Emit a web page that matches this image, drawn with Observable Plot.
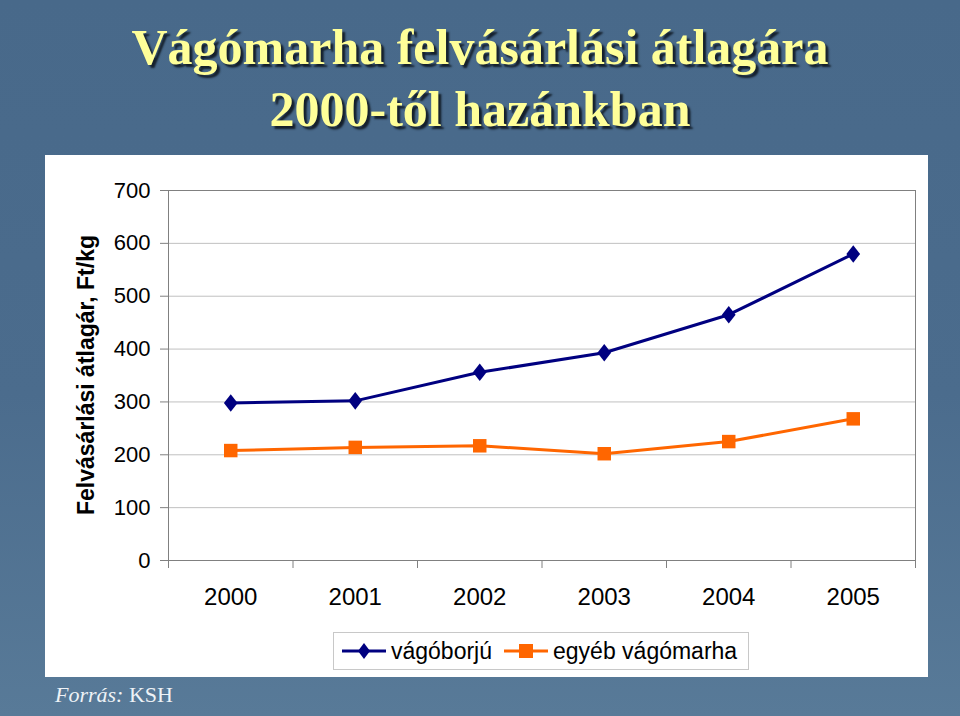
<!DOCTYPE html>
<html>
<head>
<meta charset="utf-8">
<script src="https://cdn.jsdelivr.net/npm/d3@7"></script>
<script src="https://cdn.jsdelivr.net/npm/@observablehq/plot@0.6"></script>
<style>
  html, body { margin: 0; padding: 0; }
  #slide {
    position: relative; width: 960px; height: 716px; overflow: hidden;
    background: linear-gradient(180deg, #48698a 0%, #4b6c8d 55%, #587a98 100%);
    font-family: "Liberation Sans", Arial, sans-serif;
  }
  .title {
    position: absolute; left: 0; width: 960px; text-align: center;
    font-family: "Liberation Serif", "Times New Roman", serif;
    font-size: 50px; font-weight: bold; color: #ffff99; line-height: 1;
    text-shadow: 3px 3px 2px #15202c;
  }
  #panel {
    position: absolute; left: 45px; top: 155px; width: 883px; height: 522px;
    background: #ffffff;
  }
  #chart { position: absolute; left: 0; top: 0; }
  #ytitle {
    position: absolute; left: 86px; top: 375px;
    transform: translate(-50%, -50%) rotate(-90deg);
    font-weight: bold; font-size: 23px; white-space: nowrap; color: #000;
  }
  #legend {
    position: absolute; left: 333px; top: 632px; width: 416px; height: 38px;
    border: 1px solid #c8c8c8; box-sizing: border-box; background: #fff;
    display: flex; align-items: center; font-size: 23px; color: #000;
    padding-left: 6px;
  }
  #legend .item { display: flex; align-items: center; margin-right: 10px; }
  #legend svg { margin-right: 3px; }
  #source {
    position: absolute; left: 55px; top: 684px; line-height: 1;
    font-family: "Liberation Serif", "Times New Roman", serif;
    font-size: 22px; color: #eef2f6;
  }
</style>
</head>
<body>
<div id="slide">
  <div class="title" style="top:22px;">Vágómarha felvásárlási átlagára</div>
  <div class="title" style="top:84px;">2000-től hazánkban</div>
  <div id="panel"><div id="chart"></div></div>
  <div id="ytitle">Felvásárlási átlagár, Ft/kg</div>
  <div id="legend"></div>
  <div id="source"><i>Forrás:</i> KSH</div>
</div>
<script>
const years = [2000, 2001, 2002, 2003, 2004, 2005];
const vagoborju = [298, 302, 356, 393, 465, 580];
const egyeb = [208, 214, 217, 202, 225, 268];
const seriesNames = ["vágóborjú", "egyéb vágómarha"];
const seriesColors = ["#000080", "#ff6600"];
const yTicks = [0, 100, 200, 300, 400, 500, 600, 700];

const diamond = {
  draw(context, size) {
    const h = Math.sqrt(size) * 0.62, w = h * 0.78;
    context.moveTo(0, -h); context.lineTo(w, 0); context.lineTo(0, h); context.lineTo(-w, 0); context.closePath();
  }
};

const data = [];
years.forEach((yr, i) => {
  data.push({year: yr, value: vagoborju[i], series: seriesNames[0]});
  data.push({year: yr, value: egyeb[i], series: seriesNames[1]});
});
const s1 = data.filter(d => d.series === seriesNames[0]);
const s2 = data.filter(d => d.series === seriesNames[1]);
const boundaries = years.map(y => y - 0.5).concat([years[years.length - 1] + 0.5]);

const plot = Plot.plot({
  width: 883,
  height: 470,
  marginLeft: 123,
  marginRight: 13,
  marginTop: 35,
  marginBottom: 65,
  style: {fontFamily: "Liberation Sans, Arial, sans-serif", background: "transparent", color: "#000"},
  x: {type: "linear", domain: [years[0] - 0.5, years[years.length - 1] + 0.5]},
  y: {domain: [0, 700]},
  marks: [
    Plot.gridY(yTicks, {stroke: "#c0c0c0", strokeOpacity: 1, strokeWidth: 1}),
    Plot.frame({stroke: "#808080", strokeWidth: 1}),
    Plot.axisY(yTicks, {tickSize: 8, tickPadding: 10, fontSize: 22, label: null, stroke: "#808080", tickFormat: d => String(d)}),
    Plot.axisX(boundaries, {tickSize: 8, tickFormat: () => "", label: null, stroke: "#808080"}),
    Plot.axisX(years, {tickSize: 0, tickPadding: 27, fontSize: 24, label: null, tickFormat: d => String(d)}),
    Plot.line(s1, {x: "year", y: "value", stroke: seriesColors[0], strokeWidth: 3}),
    Plot.line(s2, {x: "year", y: "value", stroke: seriesColors[1], strokeWidth: 3}),
    Plot.dot(s1, {x: "year", y: "value", symbol: diamond, r: 8, fill: seriesColors[0], stroke: "none"}),
    Plot.dot(s2, {x: "year", y: "value", symbol: "square", r: 7.6, fill: seriesColors[1], stroke: "none"})
  ]
});
document.getElementById("chart").appendChild(plot);

// legend
const legend = document.getElementById("legend");
seriesNames.forEach((name, i) => {
  const item = document.createElement("div");
  item.className = "item";
  const ns = "http://www.w3.org/2000/svg";
  const svg = document.createElementNS(ns, "svg");
  svg.setAttribute("width", 48); svg.setAttribute("height", 20);
  const line = document.createElementNS(ns, "line");
  line.setAttribute("x1", 2); line.setAttribute("x2", 46); line.setAttribute("y1", 10); line.setAttribute("y2", 10);
  line.setAttribute("stroke", seriesColors[i]); line.setAttribute("stroke-width", 3);
  svg.appendChild(line);
  const m = document.createElementNS(ns, "path");
  m.setAttribute("d", i === 0 ? "M24,2L30,10L24,18L18,10Z" : "M17,3H31V17H17Z");
  m.setAttribute("fill", seriesColors[i]);
  svg.appendChild(m);
  item.appendChild(svg);
  const t = document.createElement("span");
  t.textContent = name;
  item.appendChild(t);
  legend.appendChild(item);
});
</script>
</body>
</html>
